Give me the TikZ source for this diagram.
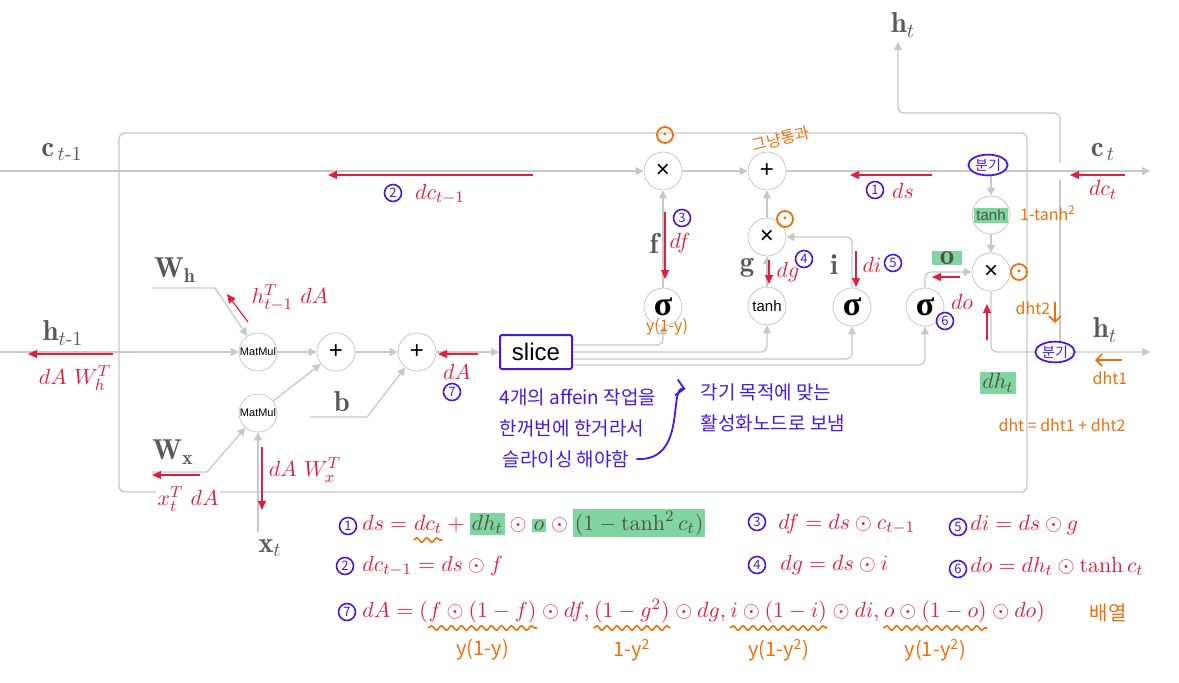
\documentclass[tikz,border=0pt]{standalone}
\usepackage{amsmath,amssymb}
\usepackage{fontspec}
\setsansfont{Liberation Sans}
\newfontfamily\kr{Noto Sans CJK KR}
\newfontfamily\grk{Liberation Serif}
\usepackage{tikz}
\usetikzlibrary{arrows.meta,positioning,calc,shapes.geometric,decorations.pathmorphing}
\usepackage{xcolor}

\definecolor{wirecol}{RGB}{200,200,200}
\definecolor{labcol}{RGB}{88,88,88}
\definecolor{gradcol}{RGB}{224,32,64}
\definecolor{pencol}{RGB}{72,24,226}
\definecolor{markcol}{RGB}{238,112,12}
\definecolor{hlcol}{RGB}{128,214,160}
\definecolor{hltext}{RGB}{80,82,66}
\newcommand{\eqfont}{\fontsize{10.95}{13}\selectfont}
\newcommand{\hlbox}[1]{{\setlength{\fboxsep}{1pt}\colorbox{hlcol}{\color{hltext}#1}}}

\begin{document}
\begin{tikzpicture}[x=0.5pt, y=-0.5pt,
    op/.style={circle, draw=wirecol, fill=white, minimum size=19pt, inner sep=0pt, font=\sffamily\large},
    mm/.style={op, font=\sffamily\fontsize{5.5}{6}\selectfont},
    fn/.style={op, font=\sffamily\fontsize{7.5}{9}\selectfont},
    act/.style={op, font=\grk\bfseries\fontsize{17}{18}\selectfont},
    wire/.style={draw=wirecol, line width=0.65pt},
    flow/.style={wire, -{Triangle[length=4pt,width=4pt]}},
    grad/.style={draw=gradcol, line width=0.6pt, -{Triangle[length=4.5pt,width=4pt]}},
    lab/.style={text=labcol, font=\Large},
    dlab/.style={text=gradcol, font=\eqfont},
    piece/.style={dlab, inner sep=0pt, anchor=base west},
    num/.style={circle, draw=pencol, line width=0.8pt, inner sep=0pt, minimum size=8.5pt, text=pencol, font=\kr\fontsize{6.5}{7}\selectfont},
    branch/.style={ellipse, draw=pencol, line width=0.9pt, fill=white, inner sep=0.5pt, text=pencol, font=\kr\fontsize{7}{8}\selectfont},
    omark/.style={circle, draw=markcol, line width=0.9pt, inner sep=0pt, minimum size=8pt, text=markcol, font=\tiny},
    note/.style={text=pencol, font=\kr\fontsize{9.5}{11}\selectfont},
    memo/.style={text=markcol, font=\kr\fontsize{8}{9}\selectfont},
    bigmemo/.style={text=markcol, font=\kr\fontsize{10}{11}\selectfont},
    pen/.style={draw=markcol, line width=0.8pt, -{Straight Barb[length=3pt]}},
    squig/.style={draw=markcol, line width=0.8pt, decorate, decoration={snake, amplitude=1.1pt, segment length=5pt}}
  ]
  \useasboundingbox (0,0) rectangle (1179,682);

  % LSTM cell frame
  \draw[wire, rounded corners=3pt] (119,133) rectangle (1027,492);

  % gate nodes
  \node[mm] (mmh) at (258,352) {MatMul};
  \node[mm] (mmx) at (258,413) {MatMul};
  \node[op] (addh) at (336,352) {+};
  \node[op] (addb) at (417,352) {+};
  \node[draw=pencol, line width=1pt, fill=white, rounded corners=1pt, minimum width=36pt, minimum height=17pt, font=\sffamily\large] (slice) at (536,352) {slice};
  \node[act] (sigf) at (663,307) {σ};
  \node[fn] (tanhg) at (767,306) {tanh};
  \node[act] (sigi) at (852,307) {σ};
  \node[act] (sigo) at (925,307) {σ};
  \node[op] (mulf) at (663,171) {×};
  \node[op] (addc) at (767,171) {+};
  \node[op] (muli) at (767,237) {×};
  \node[fn] (tanhc) at (991,215) {\hlbox{tanh}};
  \node[op] (mulo) at (991,272) {×};

  % free ends of the wires
  \coordinate (cin) at (0,171);
  \coordinate (cout) at (1150,171);
  \coordinate (ctap) at (991,171);
  \coordinate (hin) at (0,352);
  \coordinate (hout) at (1150,352);
  \coordinate (hsplit) at (1060,352);
  \coordinate (hcross) at (1060,180);
  \coordinate (hpass) at (1060,163);
  \coordinate (hbend) at (1060,113);
  \coordinate (htop) at (898,42);
  \coordinate (whin) at (152,288);
  \coordinate (whbend) at (215,288);
  \coordinate (wxin) at (152,472);
  \coordinate (wxbend) at (207,472);
  \coordinate (bin) at (310,417);
  \coordinate (bbend) at (367,417);
  \coordinate (xin) at (258,532);

  % forward wires
  \draw[flow] (cin) -- (mulf);
  \draw[flow] (mulf) -- (addc);
  \draw[flow] (addc) -- (cout);
  \draw[flow] (ctap) -- (tanhc);
  \draw[flow] (tanhc) -- (mulo);
  \draw[flow, rounded corners=3pt] (mulo) |- (hout);
  \draw[wire] (hsplit) -- (hcross);
  \draw[flow, rounded corners=3pt] (hpass) -- (hbend) -| (htop);
  \draw[flow] (hin) -- (mmh);
  \draw[flow] (whin) -- (whbend) -- (mmh);
  \draw[flow] (wxin) -- (wxbend) -- (mmx);
  \draw[flow] (xin) -- (mmx);
  \draw[flow] (mmh) -- (addh);
  \draw[flow] (mmx) -- (addh);
  \draw[flow] (addh) -- (addb);
  \draw[flow] (bin) -- (bbend) -- (addb);
  \draw[flow] (addb) -- (slice);
  \draw[flow, rounded corners=3pt] ($(slice.east)+(0,-7)$) -| (sigf);
  \draw[flow, rounded corners=3pt] (slice.east) -| (tanhg);
  \draw[flow, rounded corners=3pt] ($(slice.east)+(0,7)$) -| (sigi);
  \draw[flow, rounded corners=3pt] ($(slice.east)+(0,13)$) -| (sigo);
  \draw[flow] (sigf) -- (mulf);
  \draw[flow] (tanhg) -- (muli);
  \draw[flow] (muli) -- (addc);
  \draw[flow, rounded corners=3pt] (sigi) |- (muli);
  \draw[flow, rounded corners=3pt] (sigo) |- (mulo);

  % labels
  \node[lab] (lcprev) at (62,152) {$\mathbf{c}_{\,t\text{-}1}$};
  \node[lab] (lhprev) at (63,333) {$\mathbf{h}_{t\text{-}1}$};
  \node[lab] (lhtop) at (903,25) {$\mathbf{h}_t$};
  \node[lab] (lcnext) at (1103,152) {$\mathbf{c}_{\,t}$};
  \node[lab] (lhnext) at (1105,330) {$\mathbf{h}_t$};
  \node[lab] (lwh) at (175,270) {$\mathbf{W}_{\mathbf{h}}$};
  \node[lab] (lwx) at (173,452) {$\mathbf{W}_{\mathbf{x}}$};
  \node[lab] (lb) at (342,402) {$\mathbf{b}$};
  \node[lab] (lx) at (270,548) {$\mathbf{x}_t$};
  \node[lab] (lf) at (654,243) {$\mathbf{f}$};
  \node[lab] (lg) at (747,268) {$\mathbf{g}$};
  \node[lab] (li) at (834,265) {$\mathbf{i}$};
  \node[lab, fill=hlcol, inner xsep=4pt, inner ysep=0pt, text=hltext] (lo) at (947,258) {$\mathbf{o}$};

  % backward gradients
  \draw[grad] (1125,175) -- (1070,175);
  \node[dlab] (gdct) at (1103,190) {$dc_t$};
  \draw[grad] (932,175) -- (850,175);
  \node[dlab] (gds) at (903,191) {$ds$};
  \draw[grad] (533,175) -- (328,175);
  \node[dlab] (gdcprev) at (440,194) {$dc_{t-1}$};
  \draw[grad] (665,212) -- (665,279);
  \node[dlab] (gdf) at (680,243) {$df$};
  \draw[grad] (769,260) -- (769,284);
  \node[dlab] (gdg) at (788,272) {$dg$};
  \draw[grad] (856,251) -- (856,287);
  \node[dlab] (gdi) at (872,265) {$di$};
  \draw[grad] (960,277) -- (932,277);
  \node[dlab] (gdo) at (962,302) {$do$};
  \draw[grad] (987,340) -- (987,304);
  \node[dlab] (gdh) at (998,383) {\hlbox{$dh_t$}};
  \draw[grad] (478,354) -- (438,354);
  \node[dlab] (gda) at (457,372) {$dA$};
  \draw[grad] (113,354) -- (28,354);
  \node[dlab] (gdhprev) at (75,378) {$dA\ W_h^T$};
  \draw[grad] (248,322) -- (227,294);
  \node[dlab] (gdwh) at (290,298) {$h_{t-1}^T\ dA$};
  \draw[grad] (200,475) -- (152,475);
  \node[dlab, fill=white, inner sep=1pt] (gdwx) at (188,499) {$x_t^T\ dA$};
  \draw[grad] (262,447) -- (262,510);
  \node[dlab] (gdx) at (305,470) {$dA\ W_x^T$};

  % circled step numbers
  \node[num] (s1) at (875,190) {1};
  \node[num] (s2) at (393,193) {2};
  \node[num] (s3) at (682,218) {3};
  \node[num] (s4) at (804,259) {4};
  \node[num] (s5) at (893,263) {5};
  \node[num] (s6) at (945,321) {6};
  \node[num] (s7) at (452,392) {7};

  % handwritten notes
  \node[branch] (split1) at (988,165) {분기};
  \node[branch] (split2) at (1055,352) {분기};
  \node[omark] (om1) at (665,135) {\textbullet};
  \node[omark] (om2) at (785,219) {\textbullet};
  \node[omark] (om3) at (1019,272) {\textbullet};
  \node[memo, rotate=14] (pass) at (781,139) {그냥통과};
  \node[memo] (ysig) at (667,327) {y(1-y)};
  \node[memo] (dtanh) at (1048,213) {1-tanh\textsuperscript{2}};
  \node[memo] (dht2) at (1033,308) {dht2};
  \draw[pen] (1055,302) -- (1055,323);
  \draw[pen] (1122,360) -- (1095,360);
  \node[memo] (dht1) at (1110,378) {dht1};
  \node[memo] (dhsum) at (1062,425) {dht = dht1 + dht2};
  \node[note] (memo1) at (578,397) {4개의 affein 작업을};
  \node[note] (memo2) at (572,428) {한꺼번에 한거라서};
  \node[note] (memo3) at (566,459) {슬라이싱 해야함};
  \node[note] (memo4) at (766,392) {각기 목적에 맞는};
  \node[note] (memo5) at (773,423) {활성화노드로 보냄};
  \draw[draw=pencol, line width=0.9pt, -{Straight Barb[length=4pt]}] (memo3.east) .. controls (688,462) and (668,386) .. ($(memo4.west)+(-8,-3)$);

  % equations
  \node[num] (e1) at (348,526) {1};
  \node[piece] (p0) at (362,530) {$ds ={}$};
  \node[piece] (p1) at (p0.base east) {$dc_t$};
  \node[piece] (p2) at (p1.base east) {${}+\hlbox{$dh_t$}\odot\hlbox{$o$}\odot\hlbox{$(1-\tanh^2 c_t)$}$};
  \draw[squig] ($(p1.base west)+(0,10)$) -- ($(p1.base east)+(0,10)$);
  \node[num] (e2) at (345,566) {2};
  \node[piece] (eq2) at (362,571) {$dc_{t-1} = ds\odot f$};
  \node[num] (e3) at (757,522) {3};
  \node[piece] (eq3) at (778,529) {$df = ds\odot c_{t-1}$};
  \node[num] (e4) at (757,565) {4};
  \node[piece] (eq4) at (780,570) {$dg = ds\odot i$};
  \node[num] (e5) at (958,527) {5};
  \node[piece] (eq5) at (970,530) {$di = ds\odot g$};
  \node[num] (e6) at (958,569) {6};
  \node[piece] (eq6) at (970,572) {$do = dh_t\odot\tanh c_t$};
  \node[num] (e7) at (347,612) {7};
  \node[piece] (q0) at (362,617) {$dA = ($};
  \node[piece] (q1) at (q0.base east) {$f\odot(1-f)$};
  \node[piece] (q2) at (q1.base east) {${}\odot df,{}$};
  \node[piece] (q3) at (q2.base east) {$(1-g^2)$};
  \node[piece] (q4) at (q3.base east) {${}\odot dg,{}$};
  \node[piece] (q5) at (q4.base east) {$i\odot(1-i)$};
  \node[piece] (q6) at (q5.base east) {${}\odot di,{}$};
  \node[piece] (q7) at (q6.base east) {$o\odot(1-o)$};
  \node[piece] (q8) at (q7.base east) {${}\odot do)$};
  \node[bigmemo] (arr) at (1108,613) {배열};
  \foreach \q in {q1,q3,q5,q7}
    \draw[squig] ($(\q.base west)+(0,11)$) -- ($(\q.base east)+(0,11)$);
  \node[bigmemo] (y1) at ($(q1.base)+(0,33)$) {y(1-y)};
  \node[bigmemo] (y3) at ($(q3.base)+(0,33)$) {1-y\textsuperscript{2}};
  \node[bigmemo] (y5) at ($(q5.base)+(0,33)$) {y(1-y\textsuperscript{2})};
  \node[bigmemo] (y7) at ($(q7.base)+(0,33)$) {y(1-y\textsuperscript{2})};
\end{tikzpicture}
\end{document}
